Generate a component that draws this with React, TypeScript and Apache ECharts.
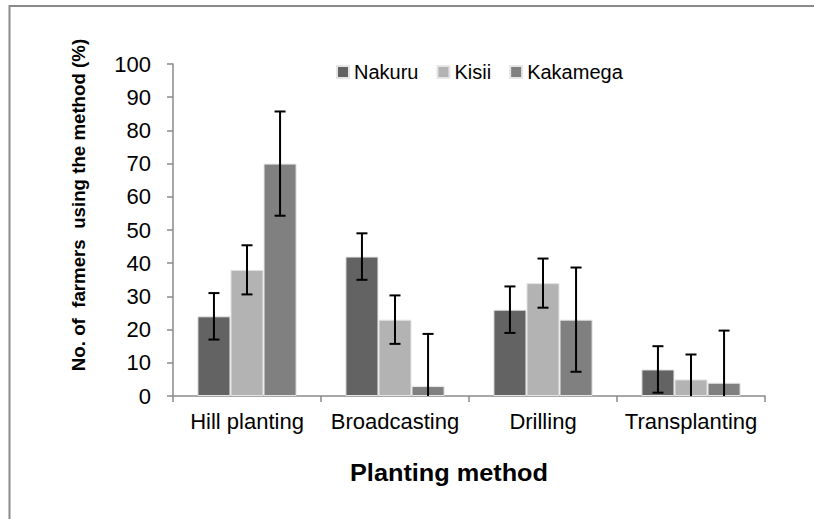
import React, { useEffect, useRef } from "react";
import * as echarts from "echarts";

const categories = ["Hill planting", "Broadcasting", "Drilling", "Transplanting"];
const seriesNames = ["Nakuru", "Kisii", "Kakamega"];
const nakuru = [24, 42, 26, 8];
const kisii = [38, 23, 34, 5];
const kakamega = [70, 3, 23, 4];
const nakuruErr = [7, 7, 7, 7];
const kisiiErr = [7.4, 7.3, 7.4, 7.5];
const kakamegaErr = [15.7, 15.7, 15.7, 15.7];
const yTicks = [0, 10, 20, 30, 40, 50, 60, 70, 80, 90, 100];
const colors = ["#636363", "#b3b3b3", "#808080"];

const FONT = "'Liberation Sans', Arial, sans-serif";

export default function App() {
  const ref = useRef<HTMLDivElement>(null);
  useEffect(() => {
    if (!ref.current) return;
    const chart = echarts.init(ref.current, undefined, { renderer: "svg" });
    const values = [nakuru, kisii, kakamega];
    const errs = [nakuruErr, kisiiErr, kakamegaErr];
    const catGap = 0.33;

    const barSeries = seriesNames.map((name, i) => ({
      name,
      type: "bar",
      data: values[i],
      barGap: "0%",
      barCategoryGap: "33%",
      itemStyle: { color: colors[i], borderColor: "#e6e6e6", borderWidth: 1 },
      emphasis: { disabled: true },
      z: 2,
    }));

    const errSeries = seriesNames.map((name, si) => ({
      name: name + " error",
      type: "custom",
      z: 5,
      silent: true,
      data: values[si].map((v, k) => [k, v, errs[si][k]]),
      renderItem: (params: any, api: any) => {
        const k = api.value(0);
        const v = api.value(1);
        const e = api.value(2);
        const band = api.size([1, 0])[0];
        const barW = (band * (1 - catGap)) / 3;
        const center = api.coord([k, 0])[0] + (si - 1) * barW;
        const lo = Math.max(0, v - e);
        const hi = v + e;
        const yLo = api.coord([k, lo])[1];
        const yHi = api.coord([k, hi])[1];
        const cap = 5.5;
        const st = { stroke: "#000", lineWidth: 2 };
        const children: any[] = [
          { type: "line", shape: { x1: center, y1: yLo, x2: center, y2: yHi }, style: st },
          { type: "line", shape: { x1: center - cap, y1: yHi, x2: center + cap, y2: yHi }, style: st },
        ];
        if (v - e > 0) {
          children.push({ type: "line", shape: { x1: center - cap, y1: yLo, x2: center + cap, y2: yLo }, style: st });
        }
        return { type: "group", children };
      },
    }));

    chart.setOption({
      animation: false,
      backgroundColor: "#ffffff",
      textStyle: { fontFamily: FONT },
      grid: { left: 173, right: 49, top: 64, bottom: 123, containLabel: false },
      legend: {
        data: seriesNames,
        left: 331,
        top: 57,
        itemWidth: 12,
        itemHeight: 12,
        itemGap: 18,
        icon: "rect",
        textStyle: { fontSize: 20, color: "#000", fontFamily: FONT },
        selectedMode: false,
      },
      xAxis: {
        type: "category",
        data: categories,
        axisLine: { lineStyle: { color: "#8a8a8a", width: 1.5 } },
        axisTick: { show: true, length: 6, lineStyle: { color: "#8a8a8a", width: 1.5 } },
        axisLabel: { fontSize: 22, color: "#000", margin: 14, fontFamily: FONT, interval: 0 },
        splitLine: { show: false },
      },
      yAxis: {
        type: "value",
        min: yTicks[0],
        max: yTicks[yTicks.length - 1],
        interval: 10,
        axisLine: { show: true, lineStyle: { color: "#8a8a8a", width: 1.5 } },
        axisTick: { show: true, length: 6, lineStyle: { color: "#8a8a8a", width: 1.5 } },
        axisLabel: { fontSize: 22, color: "#000", margin: 22, fontFamily: FONT },
        splitLine: { show: false },
      },
      graphic: [
        {
          type: "polyline",
          shape: { points: [[9.5, 519], [9.5, 6], [814, 6]] },
          style: { stroke: "#8a8a8a", lineWidth: 2, fill: "none" },
          silent: true,
        },
        {
          type: "text",
          x: 78,
          y: 205,
          rotation: Math.PI / 2,
          style: {
            text: "No. of  farmers  using the method (%)",
            fontSize: 18.7,
            fontWeight: "bold",
            fill: "#000",
            fontFamily: FONT,
            align: "center",
            verticalAlign: "middle",
          },
        },
        {
          type: "text",
          x: 449,
          y: 473,
          scaleX: 1.1,
          style: {
            text: "Planting method",
            fontSize: 23,
            fontWeight: "bold",
            fill: "#000",
            fontFamily: FONT,
            align: "center",
            verticalAlign: "middle",
          },
        },
      ],
      series: [...barSeries, ...errSeries],
    });
    return () => chart.dispose();
  }, []);
  return (
    <div
      ref={ref}
      style={{ position: "fixed", left: 0, top: 0, width: 814, height: 519, background: "#fff" }}
    />
  );
}
